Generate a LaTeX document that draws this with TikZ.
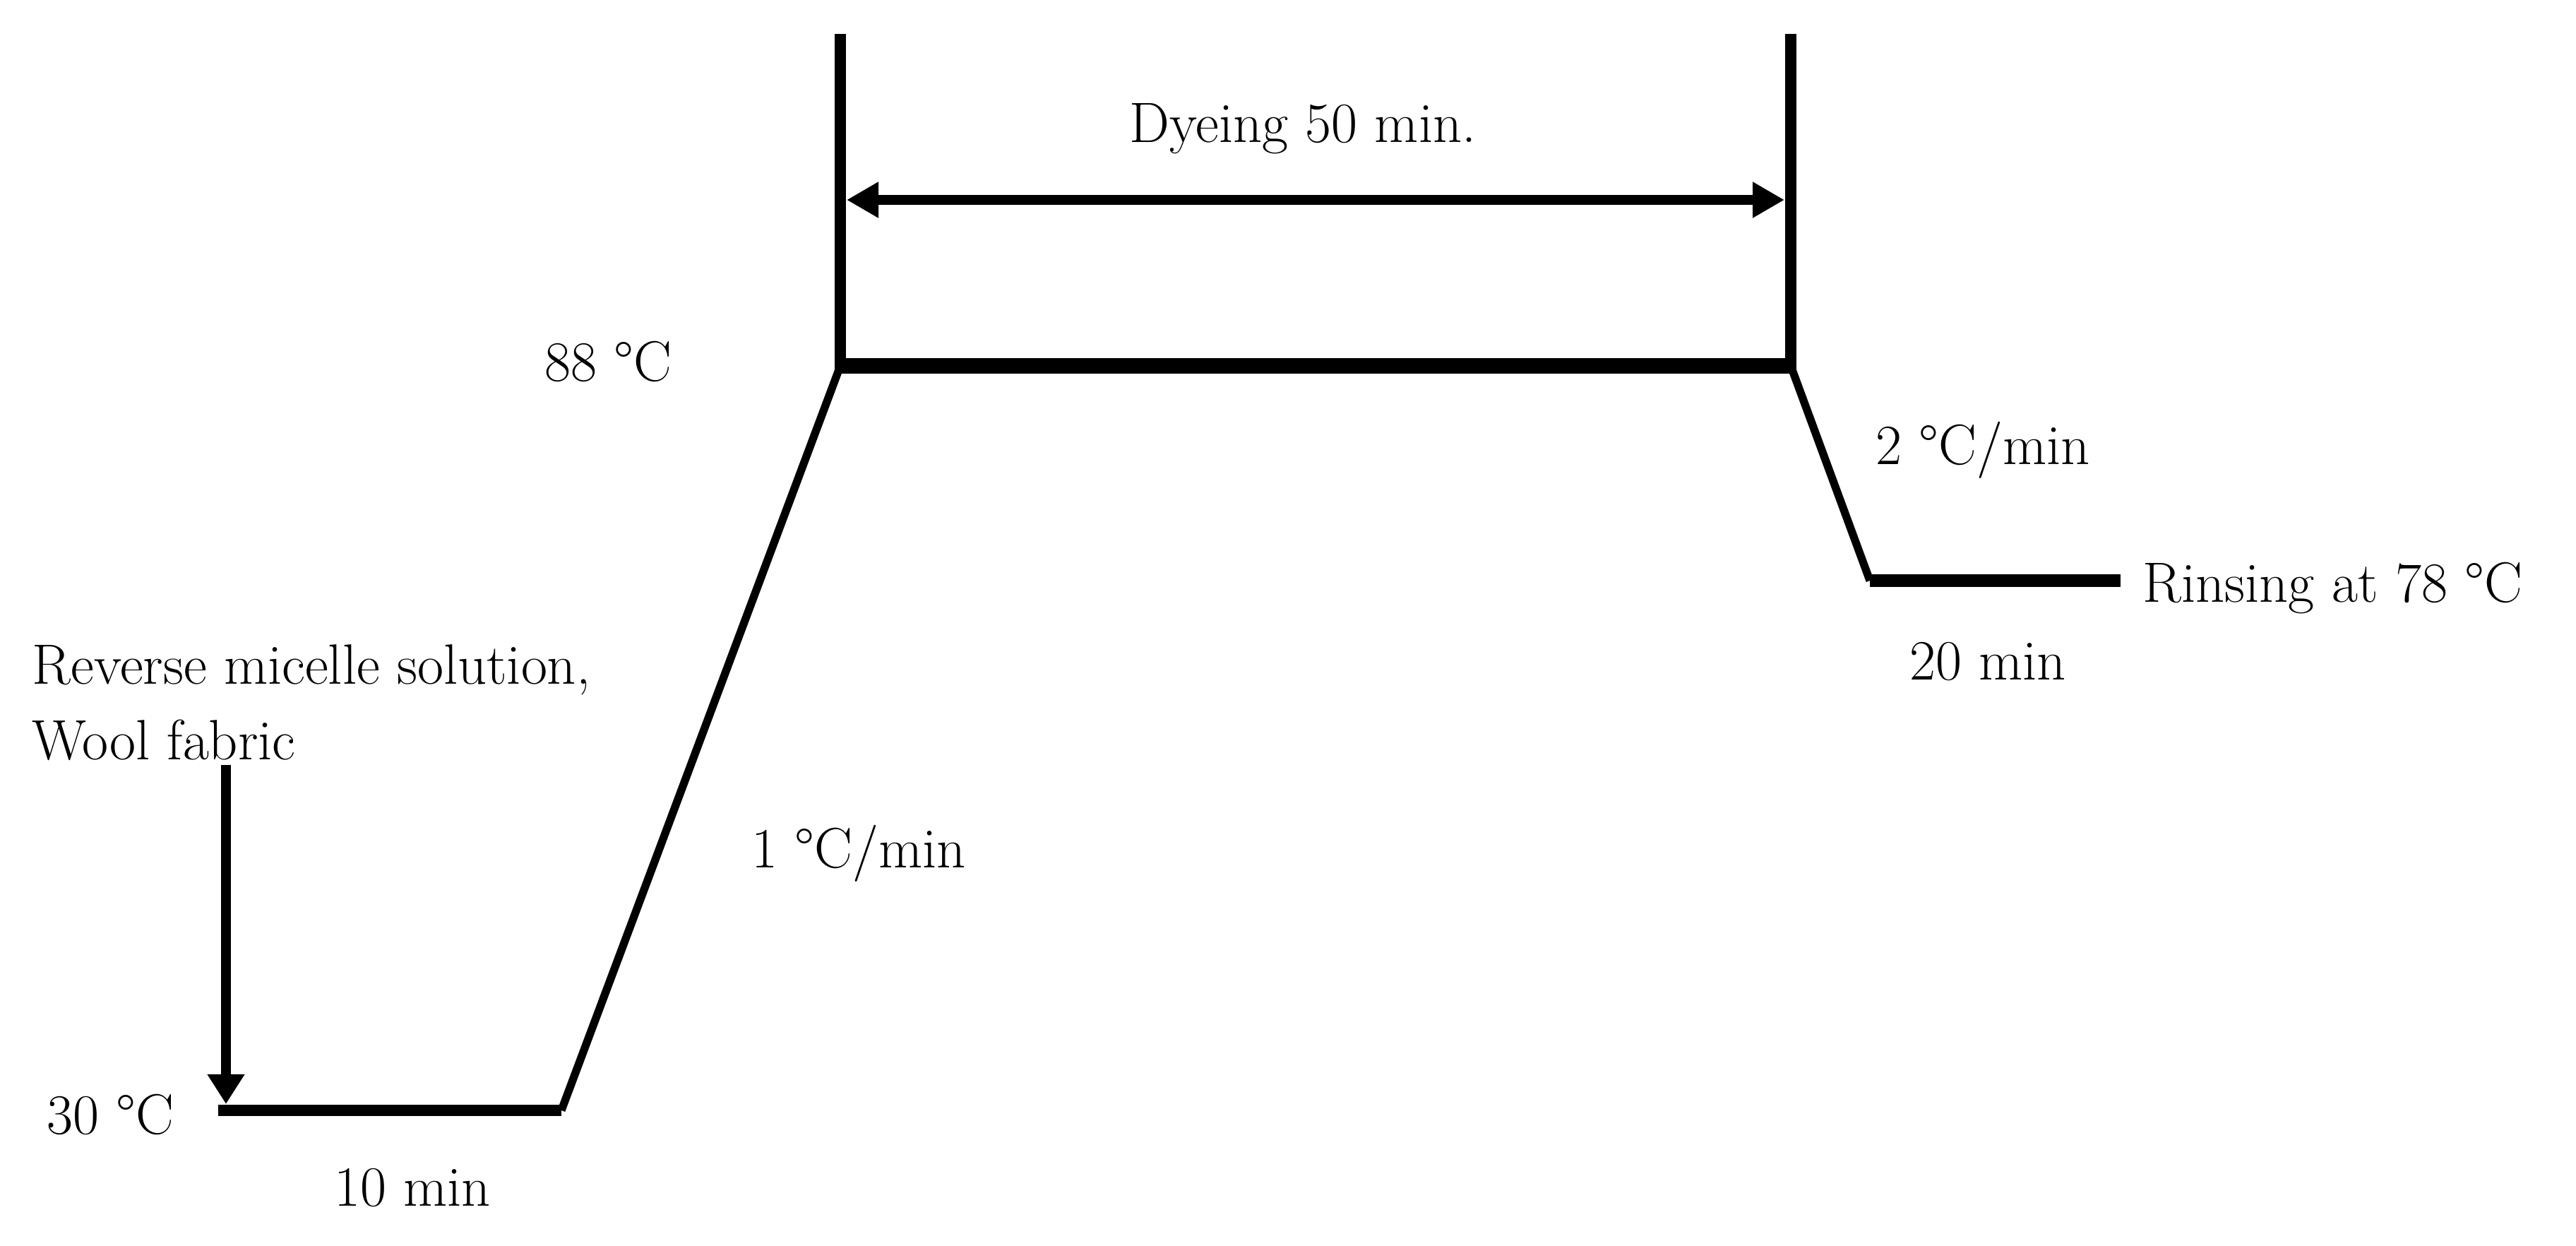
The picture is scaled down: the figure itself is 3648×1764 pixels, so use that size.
\documentclass[tikz,border=0pt]{standalone}
\usetikzlibrary{arrows.meta}
\begin{document}
\begin{tikzpicture}[x=0.01cm,y=-0.01cm,
  lbl/.style={inner sep=0pt,font=\fontsize{22.9}{27}\selectfont},
  vbar/.style={line width=4.8pt,line cap=butt},
  hold/.style={line width=6pt,line cap=butt},
  slope/.style={line width=3.2pt,line cap=butt},
  dimarrow/.style={line width=3.7pt,{Triangle[length=0.45cm,width=0.48cm]}-{Triangle[length=0.45cm,width=0.48cm]}},
  feedarrow/.style={line width=3.7pt,-{Triangle[length=0.42cm,width=0.5cm]}}]
\useasboundingbox (0,0) rectangle (3648,1764);
% profile points
\coordinate (s0) at (309,1572);
\coordinate (s1) at (795,1572);
\coordinate (s2) at (1190,518);
\coordinate (s3) at (2536,518);
\coordinate (s4) at (2648,822);
\coordinate (s5) at (3003,822);
\coordinate (vl) at (1190,48);
\coordinate (vr) at (2536,48);
\coordinate (al) at (1199,283);
\coordinate (ar) at (2527,283);
\coordinate (ft) at (320,1083);
\coordinate (fb) at (320,1563);
% profile
\draw[line width=4.6pt,line cap=butt] (s0) -- (s1);
\draw[slope] (s1) -- (s2);
\draw[hold] ([xshift=-0.08cm]s2) -- ([xshift=0.08cm]s3);
\draw[slope] (s3) -- (s4);
\draw[line width=5.4pt,line cap=butt] (s4) -- (s5);
% vertical limits
\draw[vbar] (vl) -- ([yshift=0.1cm]s2);
\draw[vbar] (vr) -- ([yshift=0.1cm]s3);
% arrows
\draw[dimarrow] (al) -- (ar);
\draw[feedarrow] (ft) -- (fb);
% labels
\node[lbl,anchor=base] (dye) at (1845,202) {Dyeing 50 min.};
\node[lbl,anchor=base] (t88) at (861,540) {88 °C};
\node[lbl,anchor=base] (t30) at (156,1605) {30 °C};
\node[lbl,anchor=base] (t10) at (584,1707) {10 min};
\node[lbl,anchor=base west] (rev) at (45,968) {Reverse micelle solution,};
\node[lbl,anchor=base west] (wool) at (45,1075) {Wool fabric};
\node[lbl,anchor=base] (r1) at (1216,1228) {1 °C/min};
\node[lbl,anchor=base] (r2) at (2808,657) {2 °C/min};
\node[lbl,anchor=base] (t20) at (2815,962) {20 min};
\node[lbl,anchor=base west] (rinse) at (3034,852) {Rinsing at 78 °C};
\end{tikzpicture}
\end{document}
